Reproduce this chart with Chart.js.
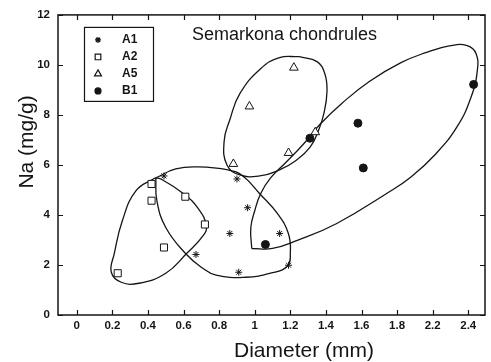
<!DOCTYPE html>
<html>
<head>
<meta charset="utf-8">
<script src="https://cdn.jsdelivr.net/npm/chart.js@4/dist/chart.umd.min.js"></script>
<style>
  html, body { margin: 0; padding: 0; background: #fff; }
</style>
</head>
<body>
<canvas id="chondrules" width="491" height="362"></canvas>
<script>
// Na content vs chondrule diameter, Semarkona chondrules
const chartTitle = "Semarkona chondrules";
const xTitle = "Diameter (mm)";
const yTitle = "Na (mg/g)";

// axis ticks (the printed labels jump from 1.8 straight to 2.2)
const xTickPos = [0, 0.2, 0.4, 0.6, 0.8, 1, 1.2, 1.4, 1.6, 1.8, 2.0, 2.2];
const xTickLabels = ["0", "0.2", "0.4", "0.6", "0.8", "1", "1.2", "1.4", "1.6", "1.8", "2.2", "2.4"];
const yTicks = [0, 2, 4, 6, 8, 10, 12];

// groups
const a1Diam = [0.49, 0.90, 0.96, 0.86, 1.14, 0.67, 0.91, 1.19];
const a1Na   = [5.56, 5.44, 4.29, 3.26, 3.26, 2.42, 1.71, 1.99];
const a2Diam = [0.42, 0.42, 0.61, 0.72, 0.49, 0.23];
const a2Na   = [5.24, 4.57, 4.73, 3.62, 2.70, 1.67];
const a5Diam = [1.22, 0.97, 0.88, 1.19, 1.34];
const a5Na   = [9.89, 8.34, 6.04, 6.48, 7.31];
const b1Diam = [1.31, 1.58, 1.61, 2.23, 1.06];
const b1Na   = [7.07, 7.67, 5.88, 9.22, 2.82];

// hand-drawn group outlines
const loopA1X = [0.444, 0.556, 0.683, 0.85, 0.933, 1.028, 1.128, 1.189, 1.2, 1.183, 1.089, 0.95, 0.783, 0.7, 0.611, 0.5, 0.45, 0.444];
const loopA1Y = [5.48, 5.84, 5.92, 5.80, 5.56, 4.85, 4.05, 3.26, 2.50, 1.95, 1.67, 1.51, 1.59, 1.91, 2.46, 3.50, 4.57, 5.48];
const loopA2X = [0.439, 0.333, 0.256, 0.211, 0.194, 0.25, 0.35, 0.5, 0.617, 0.711, 0.728, 0.683, 0.6, 0.472, 0.439];
const loopA2Y = [5.48, 4.97, 3.77, 2.46, 1.71, 1.31, 1.27, 1.67, 2.46, 3.18, 3.58, 4.25, 4.85, 5.44, 5.48];
const loopA5X = [1.25, 1.35, 1.394, 1.406, 1.389, 1.361, 1.311, 1.228, 1.139, 1.028, 0.917, 0.844, 0.828, 0.861, 0.917, 1.033, 1.139, 1.25];
const loopA5Y = [10.33, 10.13, 9.65, 8.94, 8.07, 7.43, 6.71, 6.16, 5.80, 5.56, 5.60, 6.00, 6.95, 7.83, 8.86, 9.85, 10.29, 10.33];
const loopB1X = [0.983, 0.978, 1.0, 1.033, 1.089, 1.183, 1.278, 1.367, 1.489, 1.644, 1.822, 1.961, 2.1, 2.194, 2.244, 2.25, 2.217, 2.139, 2.017, 1.878, 1.739, 1.461, 1.239, 1.1, 0.983];
const loopB1Y = [2.66, 3.50, 4.17, 4.85, 5.48, 6.16, 6.87, 7.63, 8.46, 9.34, 10.09, 10.49, 10.77, 10.77, 10.45, 9.73, 8.74, 7.55, 6.44, 5.52, 4.85, 3.66, 2.98, 2.66, 2.66];

const ink = "#151515";
const font = "'Liberation Sans', Arial, Helvetica, sans-serif";

const toPts = (xs, ys) => xs.map((x, i) => ({ x: x, y: ys[i] }));

function group(label, xs, ys, style, radius, fill) {
  return {
    label: label,
    data: toPts(xs, ys),
    pointStyle: style,
    pointRadius: radius,
    pointBorderWidth: 1,
    borderColor: ink,
    backgroundColor: fill,
    showLine: false,
    order: label === "B1" ? 0 : 1
  };
}

function outline(xs, ys) {
  return {
    label: "",
    data: toPts(xs, ys),
    showLine: true,
    pointRadius: 0,
    borderColor: ink,
    borderWidth: 1.3,
    tension: 0.45,
    fill: false,
    order: 5
  };
}

const groups = [
  group("A1", a1Diam, a1Na, "star", 3.5, ink),
  group("A2", a2Diam, a2Na, "rect", 5, "#fff"),
  group("A5", a5Diam, a5Na, "triangle", 5, "#fff"),
  group("B1", b1Diam, b1Na, "circle", 4, ink)
];

// frame, inward ticks, titles and the boxed key
const decorations = {
  id: "decorations",
  afterDraw(chart) {
    const { ctx, chartArea: a, scales: { x, y } } = chart;
    ctx.save();
    ctx.strokeStyle = ink;
    ctx.lineWidth = 1.5;
    ctx.strokeRect(a.left, a.top, a.right - a.left, a.bottom - a.top);

    ctx.lineWidth = 1.2;
    ctx.beginPath();
    xTickPos.forEach(v => {
      const px = Math.round(x.getPixelForValue(v)) + 0.5;
      ctx.moveTo(px, a.bottom); ctx.lineTo(px, a.bottom - 5);
      ctx.moveTo(px, a.top); ctx.lineTo(px, a.top + 5);
    });
    yTicks.forEach(v => {
      const py = Math.round(y.getPixelForValue(v)) + 0.5;
      ctx.moveTo(a.left, py); ctx.lineTo(a.left + 5, py);
      ctx.moveTo(a.right, py); ctx.lineTo(a.right - 5, py);
    });
    ctx.stroke();

    ctx.fillStyle = ink;
    ctx.textBaseline = "middle";
    ctx.textAlign = "left";
    ctx.font = "18px " + font;
    ctx.fillText(chartTitle, a.left + 134, a.top + 20);

    ctx.textAlign = "center";
    ctx.font = "21px " + font;
    ctx.fillText(xTitle, a.left + 246, a.bottom + 36);
    ctx.save();
    ctx.translate(27, a.top + 127);
    ctx.rotate(-Math.PI / 2);
    ctx.fillText(yTitle, 0, 0);
    ctx.restore();

    // key
    const bx = a.left + 26, by = a.top + 12, bw = 69, bh = 74;
    ctx.lineWidth = 1.2;
    ctx.strokeRect(bx + 0.5, by + 0.5, bw, bh);
    ctx.font = "bold 12px " + font;
    ctx.textAlign = "left";
    groups.forEach((ds, i) => {
      const cy = by + 13 + i * 17;
      ctx.fillStyle = ds.backgroundColor;
      ctx.strokeStyle = ink;
      Chart.helpers.drawPoint(ctx, {
        pointStyle: ds.pointStyle,
        radius: ds.pointStyle === "star" ? 3 : ds.pointRadius - 1,
        rotation: 0,
        borderWidth: 1
      }, bx + 14, cy);
      ctx.fillStyle = ink;
      ctx.fillText(ds.label, bx + 38, cy);
    });
    ctx.restore();
  }
};

new Chart(document.getElementById("chondrules"), {
  type: "scatter",
  data: {
    datasets: groups.concat([
      outline(loopA1X, loopA1Y),
      outline(loopA2X, loopA2Y),
      outline(loopA5X, loopA5Y),
      outline(loopB1X, loopB1Y)
    ])
  },
  options: {
    responsive: false,
    animation: false,
    layout: { padding: { top: 13, right: 1, left: 0, bottom: 0 } },
    plugins: { legend: { display: false }, tooltip: { enabled: false } },
    scales: {
      x: {
        type: "linear",
        min: -0.1056,
        max: 2.294,
        afterBuildTicks: s => { s.ticks = xTickPos.map(v => ({ value: v })); },
        afterFit: s => { s.height = 47; },
        ticks: {
          callback: (v, i) => xTickLabels[i],
          color: ink,
          font: { family: font, size: 11.5, weight: "bold" },
          padding: 4,
          maxRotation: 0,
          autoSkip: false
        },
        grid: { display: false, drawTicks: false },
        border: { display: false }
      },
      y: {
        min: 0,
        max: 12,
        afterBuildTicks: s => { s.ticks = yTicks.map(v => ({ value: v })); },
        afterFit: s => { s.width = 58; },
        ticks: {
          color: ink,
          font: { family: font, size: 11.5, weight: "bold" },
          padding: 8
        },
        grid: { display: false, drawTicks: false },
        border: { display: false }
      }
    }
  },
  plugins: [decorations]
});
</script>
</body>
</html>
